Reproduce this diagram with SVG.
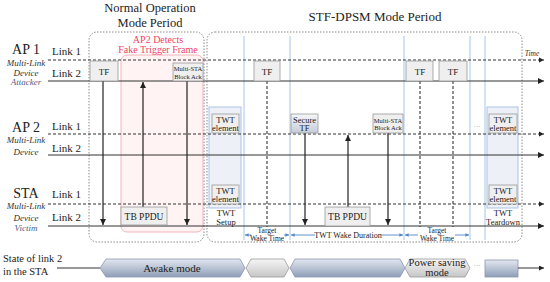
<svg xmlns="http://www.w3.org/2000/svg" width="550" height="282" viewBox="0 0 550 282">
<defs>
<style>
.t{font-family:"Liberation Serif","Times New Roman",serif;fill:#222}
.ti{font-family:"Liberation Serif","Times New Roman",serif;font-style:italic;fill:#333}
.per{fill:none;stroke:#8a8a8a;stroke-width:1;stroke-dasharray:1.5 1.5}
.hs{stroke:#333;stroke-width:1.2;fill:none}
.hd{stroke:#333;stroke-width:1.1;stroke-dasharray:3 2;fill:none}
.vs{stroke:#222;stroke-width:1.2;fill:none}
.vd{stroke:#333;stroke-width:1.1;stroke-dasharray:3 2;fill:none}
.bl{stroke:#a8c6e6;stroke-width:1;fill:none}
.box{fill:#efefef;stroke:#9a9a9a;stroke-width:0.8}
.col{fill:#eef0f7;stroke:#a9c4e6;stroke-width:1}
.ann{stroke:#4f86c6;stroke-width:0.9;fill:none}
</style>
<linearGradient id="gBlue" x1="0" y1="0" x2="0" y2="1"><stop offset="0" stop-color="#e3e8f0"/><stop offset="1" stop-color="#8f9eb8"/></linearGradient>
<linearGradient id="gGray" x1="0" y1="0" x2="0" y2="1"><stop offset="0" stop-color="#f6f6f6"/><stop offset="1" stop-color="#c6c6c6"/></linearGradient>
<linearGradient id="gSec" x1="0" y1="0" x2="0" y2="1"><stop offset="0" stop-color="#f6f7fa"/><stop offset="1" stop-color="#c5ccd8"/></linearGradient>
<marker id="ah" viewBox="0 0 6 6" refX="6" refY="3" markerWidth="5" markerHeight="5" orient="auto"><path d="M0,0L6,3L0,6z" fill="#222"/></marker>
<marker id="ab" viewBox="0 0 6 6" refX="6" refY="3" markerWidth="4" markerHeight="4" orient="auto"><path d="M0,0L6,3L0,6z" fill="#4f86c6"/></marker>
</defs>

<!-- titles -->
<g id="titles">
<text class="t" x="150" y="12" font-size="12.5" text-anchor="middle">Normal Operation</text>
<text class="t" x="150" y="27" font-size="12.5" text-anchor="middle">Mode Period</text>
<text class="t" x="375" y="21" font-size="13" text-anchor="middle">STF-DPSM Mode Period</text>
</g>

<!-- period boxes -->
<g id="periods">
<rect class="per" x="89" y="32" width="115" height="210" rx="8"/>
<rect class="per" x="207" y="32" width="315" height="210" rx="8"/>
<rect x="121" y="55" width="82" height="177" rx="6" fill="#fff3f3" stroke="#f5b3ba" stroke-width="1"/>
<text x="158" y="43" font-size="10" text-anchor="middle" fill="#ee4466" font-family="Liberation Serif, Times New Roman, serif">AP2 Detects</text>
<text x="158" y="53" font-size="10" text-anchor="middle" fill="#ee4466" font-family="Liberation Serif, Times New Roman, serif">Fake Trigger Frame</text>
<rect class="col" x="209" y="107" width="32" height="101"/>
<rect class="col" x="487" y="107" width="31" height="101"/>
</g>

<!-- row labels -->
<g id="ap1">
<text class="t" x="26" y="54" font-size="14" text-anchor="middle">AP 1</text>
<text class="ti" x="26" y="66" font-size="9" text-anchor="middle">Multi-Link</text>
<text class="ti" x="26" y="76" font-size="9" text-anchor="middle">Device</text>
<text class="ti" x="26" y="85" font-size="9" text-anchor="middle" style="fill:#4a6088">Attacker</text>
<text class="t" x="52" y="55" font-size="11">Link 1</text>
<text class="t" x="52" y="77" font-size="11">Link 2</text>
</g>
<g id="ap2">
<text class="t" x="26" y="132" font-size="14" text-anchor="middle">AP 2</text>
<text class="ti" x="26" y="143" font-size="9" text-anchor="middle">Multi-Link</text>
<text class="ti" x="26" y="155" font-size="9" text-anchor="middle">Device</text>
<text class="t" x="52" y="130" font-size="11">Link 1</text>
<text class="t" x="52" y="152" font-size="11">Link 2</text>
</g>
<g id="sta">
<text class="t" x="26" y="198" font-size="14" text-anchor="middle">STA</text>
<text class="ti" x="26" y="209" font-size="9" text-anchor="middle">Multi-Link</text>
<text class="ti" x="26" y="221" font-size="9" text-anchor="middle">Device</text>
<text class="ti" x="26" y="231" font-size="9" text-anchor="middle" style="fill:#4a6088">Victim</text>
<text class="t" x="52" y="198" font-size="11">Link 1</text>
<text class="t" x="52" y="221" font-size="11">Link 2</text>
</g>

<!-- blue time guides -->
<g id="guides">
<line class="bl" x1="244" y1="36" x2="244" y2="240"/>
<line class="bl" x1="290" y1="36" x2="290" y2="240"/>
<line class="bl" x1="404" y1="36" x2="404" y2="240"/>
<line class="bl" x1="470" y1="36" x2="470" y2="240"/>
<line class="bl" x1="485" y1="36" x2="485" y2="240"/>
</g>

<!-- connectors -->
<g id="connectors">
<line class="hd" x1="48" y1="60" x2="544" y2="60" marker-end="url(#ah)"/>
<line class="hs" x1="48" y1="81" x2="544" y2="81" marker-end="url(#ah)"/>
<line class="hd" x1="48" y1="134" x2="544" y2="134" marker-end="url(#ah)"/>
<line class="hs" x1="48" y1="155" x2="544" y2="155" marker-end="url(#ah)"/>
<line class="hd" x1="48" y1="204" x2="544" y2="204" marker-end="url(#ah)"/>
<line class="hs" x1="48" y1="226" x2="544" y2="226" marker-end="url(#ah)"/>

<line class="vs" x1="103" y1="81" x2="103" y2="225" marker-end="url(#ah)"/>
<line class="vs" x1="143" y1="207" x2="143" y2="82" marker-end="url(#ah)"/>
<line class="vs" x1="187" y1="81" x2="187" y2="225" marker-end="url(#ah)"/>
<line class="vs" x1="305" y1="133" x2="305" y2="225" marker-end="url(#ah)"/>
<line class="vs" x1="348" y1="207" x2="348" y2="135" marker-end="url(#ah)"/>
<line class="vs" x1="388" y1="133" x2="388" y2="225" marker-end="url(#ah)"/>

<line class="vd" x1="267" y1="81" x2="267" y2="227"/>
<line class="vd" x1="420" y1="81" x2="420" y2="227"/>
<line class="vd" x1="453" y1="81" x2="453" y2="227"/>

<line class="ann" x1="251" y1="235" x2="245" y2="235" marker-end="url(#ab)"/>
<line class="ann" x1="284" y1="235" x2="289" y2="235" marker-end="url(#ab)"/>
<line class="ann" x1="315" y1="235" x2="291" y2="235" marker-end="url(#ab)"/>
<line class="ann" x1="381" y1="235" x2="403" y2="235" marker-end="url(#ab)"/>
<line class="ann" x1="418" y1="235" x2="405" y2="235" marker-end="url(#ab)"/>
<line class="ann" x1="455" y1="235" x2="469" y2="235" marker-end="url(#ab)"/>
</g>

<!-- frames -->
<g id="tf1"><rect class="box" x="90" y="61" width="28" height="20"/><text class="t" x="104" y="75" font-size="9" text-anchor="middle">TF</text></g>
<g id="ba1"><rect class="box" x="173" y="63" width="30" height="18"/><text class="t" x="188" y="71" font-size="6.5" text-anchor="middle">Multi-STA</text><text class="t" x="188" y="78.5" font-size="6.5" text-anchor="middle">Block Ack</text></g>
<g id="tbppdu1"><rect class="box" x="121" y="207" width="46" height="18"/><text class="t" x="144" y="219.5" font-size="9.5" text-anchor="middle">TB PPDU</text></g>
<g id="tf2"><rect class="box" x="254" y="61" width="26" height="20"/><text class="t" x="267" y="75" font-size="9" text-anchor="middle">TF</text></g>
<g id="tf3"><rect class="box" x="406" y="61" width="27" height="20"/><text class="t" x="420" y="75" font-size="9" text-anchor="middle">TF</text></g>
<g id="tf4"><rect class="box" x="439" y="61" width="28" height="20"/><text class="t" x="453" y="75" font-size="9" text-anchor="middle">TF</text></g>
<g id="twt1"><rect class="box" x="212" y="114" width="27" height="19"/><text class="t" x="225.5" y="122.5" font-size="8.5" text-anchor="middle">TWT</text><text class="t" x="225.5" y="131" font-size="8.5" text-anchor="middle">element</text></g>
<g id="twt2"><rect class="box" x="212" y="185" width="27" height="19"/><text class="t" x="225.5" y="193.5" font-size="8.5" text-anchor="middle">TWT</text><text class="t" x="225.5" y="202" font-size="8.5" text-anchor="middle">element</text></g>
<g id="twt3"><rect class="box" x="489" y="114" width="28" height="19"/><text class="t" x="503" y="122.5" font-size="8.5" text-anchor="middle">TWT</text><text class="t" x="503" y="131" font-size="8.5" text-anchor="middle">element</text></g>
<g id="twt4"><rect class="box" x="489" y="185" width="28" height="19"/><text class="t" x="503" y="193.5" font-size="8.5" text-anchor="middle">TWT</text><text class="t" x="503" y="202" font-size="8.5" text-anchor="middle">element</text></g>
<g id="sectf"><rect x="291" y="114" width="27" height="19" fill="url(#gSec)" stroke="#9a9a9a" stroke-width="0.8"/><text class="t" x="304.5" y="122.5" font-size="8.5" text-anchor="middle">Secure</text><text class="t" x="304.5" y="131" font-size="8.5" text-anchor="middle">TF</text></g>
<g id="ba2"><rect class="box" x="373" y="114" width="30" height="19"/><text class="t" x="388" y="122.5" font-size="6.5" text-anchor="middle">Multi-STA</text><text class="t" x="388" y="130" font-size="6.5" text-anchor="middle">Block Ack</text></g>
<g id="tbppdu2"><rect class="box" x="325" y="207" width="45" height="19"/><text class="t" x="347.5" y="220" font-size="9.5" text-anchor="middle">TB PPDU</text></g>

<!-- annotations -->
<g id="labels">
<text class="t" x="226" y="216" font-size="8.5" text-anchor="middle">TWT</text>
<text class="t" x="226" y="225" font-size="8.5" text-anchor="middle">Setup</text>
<text class="t" x="503" y="216" font-size="8.5" text-anchor="middle">TWT</text>
<text class="t" x="503" y="225" font-size="8.5" text-anchor="middle">Teardown</text>
<text class="t" x="267" y="233" font-size="7.5" text-anchor="middle">Target</text>
<text class="t" x="267" y="241" font-size="7.5" text-anchor="middle">Wake Time</text>
<text class="t" x="348" y="238" font-size="8" text-anchor="middle">TWT Wake Duration</text>
<text class="t" x="437" y="233" font-size="7.5" text-anchor="middle">Target</text>
<text class="t" x="437" y="241" font-size="7.5" text-anchor="middle">Wake Time</text>
<text class="ti" x="532" y="56" font-size="7.5" text-anchor="middle">Time</text>
<text x="477" y="127" font-size="9" text-anchor="middle" fill="#9ebee0" font-family="Liberation Serif, serif">...</text>
</g>

<!-- state bar -->
<g id="state">
<text class="t" x="3" y="262" font-size="10.5">State of link 2</text>
<text class="t" x="3" y="275" font-size="10.5">in the STA</text>
<line x1="57" y1="268" x2="100" y2="268" stroke="#333" stroke-width="1"/>
<polygon points="100,268 106,259 240,259 245,268 240,277 106,277" fill="url(#gBlue)" stroke="#8a97ad" stroke-width="0.8"/>
<text class="t" x="172" y="272" font-size="11" text-anchor="middle">Awake mode</text>
<polygon points="246,268 251,259 284,259 289,268 284,277 251,277" fill="url(#gGray)" stroke="#999" stroke-width="0.8"/>
<polygon points="290,268 295,259 400,259 405,268 400,277 295,277" fill="url(#gBlue)" stroke="#8a97ad" stroke-width="0.8"/>
<polygon points="405,268 410,259 465,259 470,268 465,277 410,277" fill="url(#gGray)" stroke="#999" stroke-width="0.8"/>
<text class="t" x="437" y="266" font-size="10.5" text-anchor="middle">Power saving</text>
<text class="t" x="437" y="276" font-size="10.5" text-anchor="middle">mode</text>
<text x="477" y="266" font-size="9" text-anchor="middle" fill="#9ebee0" font-family="Liberation Serif, serif">...</text>
<rect x="485" y="260" width="33" height="17" fill="url(#gBlue)" stroke="#8a97ad" stroke-width="0.8"/>
<line x1="518" y1="268" x2="544" y2="268" stroke="#333" stroke-width="1" marker-end="url(#ah)"/>
</g>
</svg>
